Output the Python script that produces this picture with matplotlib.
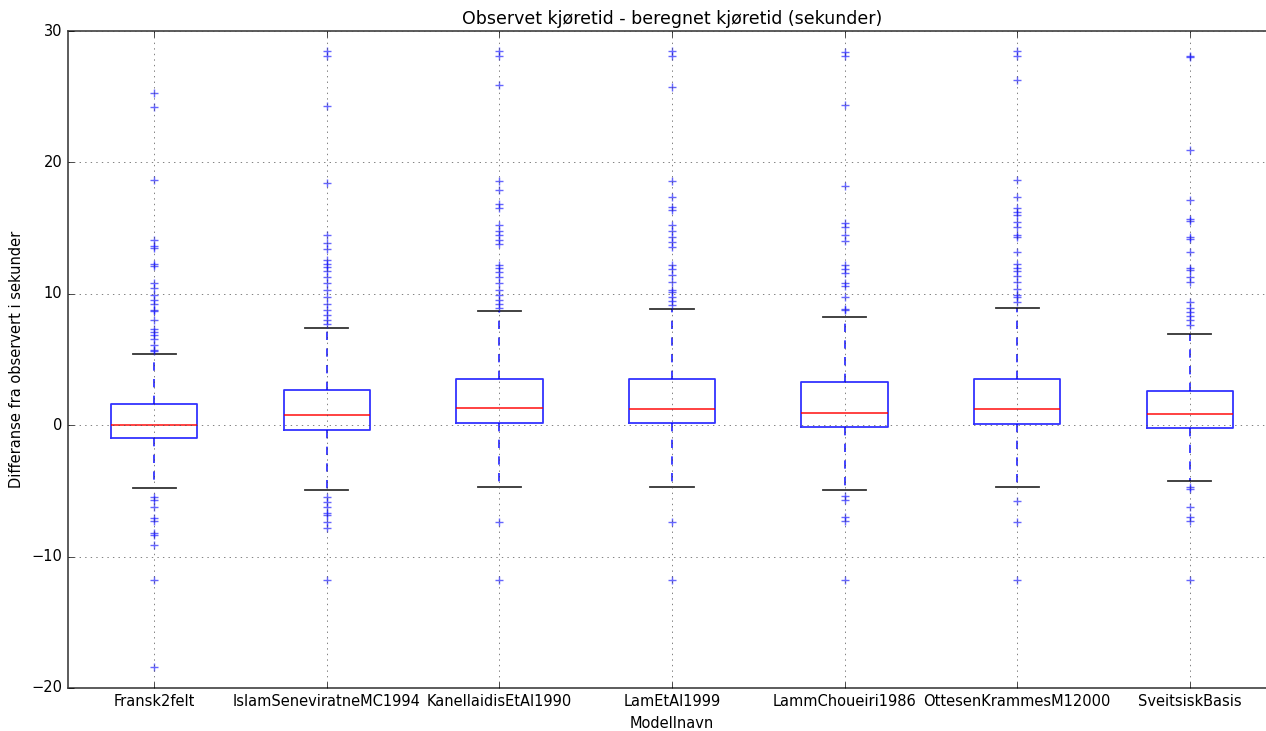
import matplotlib
matplotlib.use('Agg')
import matplotlib.pyplot as plt

plt.style.use('classic')
plt.rcParams['font.family'] = ['DejaVu Sans']

models = ['Fransk2felt', 'IslamSeneviratneMC1994', 'KanellaidisEtAl1990', 'LamEtAl1999',
          'LammChoueiri1986', 'OttesenKrammesM12000', 'SveitsiskBasis']

# box statistics (seconds)
q1 = [-0.96, -0.38, 0.20, 0.13, -0.13, 0.08, -0.25]
med = [0.05, 0.81, 1.32, 1.24, 0.94, 1.27, 0.84]
q3 = [1.60, 2.71, 3.55, 3.55, 3.29, 3.55, 2.61]
whislo = [-4.76, -4.94, -4.74, -4.74, -4.94, -4.74, -4.28]
whishi = [5.40, 7.40, 8.66, 8.81, 8.23, 8.92, 6.97]

fliers_fransk = [25.25, 24.2, 18.67, 14.06, 13.6, 13.45, 12.3, 12.15, 10.84, 10.46, 9.93, 9.55,
                 9.25, 8.8, 8.7, 7.98, 7.29, 7.09, 6.84, 6.59, 6.08, 5.75, 5.65,
                 -5.45, -5.7, -6.2, -7.09, -7.27, -8.23, -8.36, -9.12, -11.78, -18.37]
fliers_islam = [28.5, 28.1, 24.3, 18.4, 14.44, 13.9, 13.4, 12.6, 12.3, 12.03, 11.73, 11.27,
                10.8, 10.3, 9.75, 9.25, 8.8, 8.36, 7.98, 7.67,
                -5.45, -5.83, -6.26, -6.66, -6.84, -7.35, -7.85, -11.78]
fliers_kanell = [28.5, 28.1, 25.9, 18.6, 17.9, 16.8, 16.5, 15.25, 14.8, 14.44, 14.06, 13.8,
                 12.16, 11.98, 11.65, 11.27, 10.8, 10.3, 9.88, 9.55, 9.19, 8.94,
                 -7.35, -11.78]
fliers_lam = [28.5, 28.1, 25.76, 18.56, 17.35, 16.64, 16.34, 15.2, 14.8, 14.3, 13.93, 13.55,
              12.16, 11.9, 11.4, 10.9, 10.26, 10.13, 9.75, 9.45, 9.12,
              -7.35, -11.78]
fliers_lamm = [28.37, 28.1, 24.4, 18.24, 15.37, 15.12, 14.44, 14.0, 12.16, 11.9, 11.57,
               10.81, 10.56, 9.75, 8.87, 8.74,
               -5.4, -5.7, -7.02, -7.27, -11.78]
fliers_ottesen = [28.5, 28.1, 26.3, 18.67, 17.35, 16.54, 16.2, 15.96, 15.5, 15.07, 14.44, 14.3,
                  13.17, 12.23, 11.98, 11.73, 11.32, 10.9, 10.38, 9.88, 9.75, 9.37,
                  -5.75, -7.35, -11.78]
fliers_sveits = [28.1, 28.0, 20.95, 17.15, 15.7, 15.52, 14.36, 14.19, 13.17, 11.98, 11.78,
                 11.27, 10.9, 9.37, 8.91, 8.61, 8.28, 7.98, 7.6,
                 -4.74, -4.89, -6.26, -6.97, -7.27, -11.78]
fliers = [fliers_fransk, fliers_islam, fliers_kanell, fliers_lam,
          fliers_lamm, fliers_ottesen, fliers_sveits]

stats = []
for i, name in enumerate(models):
    stats.append({'label': name, 'q1': q1[i], 'med': med[i], 'q3': q3[i],
                  'whislo': whislo[i], 'whishi': whishi[i], 'fliers': fliers[i]})

fig = plt.figure(figsize=(12.66, 7.31), dpi=100, facecolor='white')
ax = fig.add_axes([68 / 1266, 1 - 688 / 731, (1276 - 68) / 1266, (688 - 31) / 731])

ax.bxp(stats, widths=0.5,
       boxprops=dict(color='b', linewidth=1.3, alpha=0.8),
       whiskerprops=dict(color='b', linestyle='--', linewidth=1.3, alpha=0.8),
       capprops=dict(color='k', linewidth=1.3, alpha=0.8),
       medianprops=dict(color='r', linewidth=1.3, alpha=0.8),
       flierprops=dict(marker='+', markeredgecolor='b', alpha=0.6))

ax.set_ylim(-20, 30)
ax.set_xlim(0.5, 7.5)
ax.grid(True, color='0.3')
ax.spines['right'].set_visible(False)
for s in ['left', 'top', 'bottom']:
    ax.spines[s].set_color('0.25')
    ax.spines[s].set_linewidth(1.2)
ax.set_title('Observet kjøretid - beregnet kjøretid (sekunder)', fontsize=12.5)
ax.set_xlabel('Modellnavn', fontsize=10.5)
ax.set_ylabel('Differanse fra observert i sekunder', fontsize=10.5)
ax.tick_params(labelsize=10.5)

fig.savefig('out.png', dpi=100, facecolor='white')
